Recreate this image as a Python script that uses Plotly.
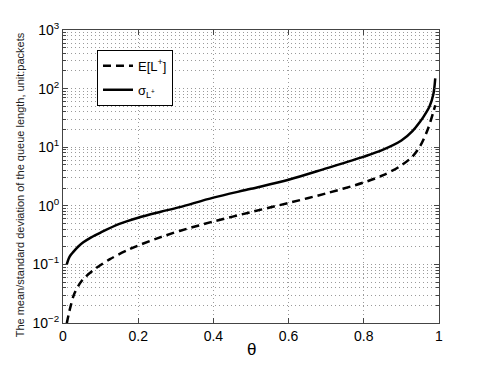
import plotly.graph_objects as go

# theta values and curves (log y)
theta_mean = [0.01, 0.015, 0.02, 0.03, 0.05, 0.08, 0.125, 0.17, 0.2, 0.26, 0.31, 0.4, 0.5,
              0.6, 0.7, 0.8, 0.85, 0.9, 0.93, 0.95, 0.97, 0.985, 0.99]
mean_vals = [0.0098, 0.014, 0.019, 0.0316, 0.0525, 0.079, 0.123, 0.173, 0.21, 0.292, 0.372, 0.54, 0.78,
             1.12, 1.63, 2.5, 3.3, 4.9, 7.0, 10.5, 20.0, 40.0, 52.0]

theta_std = [0.01, 0.015, 0.02, 0.027, 0.04, 0.054, 0.075, 0.1, 0.15, 0.2, 0.26, 0.31, 0.4, 0.5,
             0.6, 0.7, 0.8, 0.85, 0.9, 0.93, 0.95, 0.96, 0.975, 0.985, 0.99]
std_vals = [0.1, 0.125, 0.143, 0.162, 0.2, 0.238, 0.29, 0.35, 0.49, 0.625, 0.79, 0.95, 1.38, 1.95,
            2.78, 4.35, 6.9, 9.0, 13.0, 19.0, 27.5, 34.0, 50.0, 80.0, 150.0]

y_tickvals = [0.01, 0.1, 1, 10, 100, 1000]
y_ticktext = ['10<sup>−2</sup>', '10<sup>−1</sup>', '10<sup>0</sup>',
              '10<sup>1</sup>', '10<sup>2</sup>', '10<sup>3</sup>']
y_minor = [k * 10.0 ** e for e in range(-2, 3) for k in range(2, 10)]

fig = go.Figure()
fig.add_trace(go.Scatter(x=theta_mean, y=mean_vals, mode='lines', name='E[L<sup>+</sup>]',
                         legendgroup='a',
                         line=dict(color='black', width=2.5, dash='8px,5px', shape='spline', smoothing=0.9)))
fig.add_trace(go.Scatter(x=theta_std, y=std_vals, mode='lines', name='σ<sub>L<sup>+</sup></sub>',
                         legendgroup='b',
                         line=dict(color='black', width=2.5, shape='spline', smoothing=0.9)))

grid_dash = '1px,3px'
axis_common = dict(showline=True, linecolor='#444444', linewidth=1, mirror='allticks',
                   ticks='inside', ticklen=5, tickcolor='#444444', zeroline=False,
                   showgrid=True, gridcolor='#9a9a9a', griddash=grid_dash, gridwidth=1,
                   tickfont=dict(size=14, color='black'))

fig.update_xaxes(range=[0, 1], dtick=0.2, tick0=0, **axis_common)
fig.update_yaxes(type='log', range=[-2, 3], tickmode='array', tickvals=y_tickvals,
                 ticktext=y_ticktext,
                 minor=dict(tickmode='array', tickvals=y_minor, ticks='inside', ticklen=3,
                            tickcolor='#444444', showgrid=True, gridcolor='#9a9a9a',
                            griddash=grid_dash, gridwidth=1),
                 **axis_common)

fig.add_annotation(text='The mean/standard deviation of the queue length, unit:packets',
                   xref='paper', yref='paper', x=-0.112, y=0.473, xanchor='center',
                   yanchor='middle', textangle=-90,
                   showarrow=False, font=dict(size=11, color='#222222'))
fig.add_annotation(text='θ', xref='paper', yref='paper', x=0.5, y=-0.091, yanchor='middle',
                   showarrow=False, font=dict(size=17, color='black'))

# page body has an 8px margin, so the figure is drawn 8px smaller and shifted
fig.update_layout(width=477, height=357, margin=dict(l=55, r=46, t=19, b=42),
                  paper_bgcolor='white', plot_bgcolor='white',
                  font=dict(family='Liberation Sans, Arial, sans-serif', color='black'),
                  legend=dict(x=0.0904, y=0.932, xanchor='left', yanchor='top',
                              bgcolor='white', bordercolor='black', borderwidth=1,
                              font=dict(size=13), tracegroupgap=4))

fig.write_html("out.html")
